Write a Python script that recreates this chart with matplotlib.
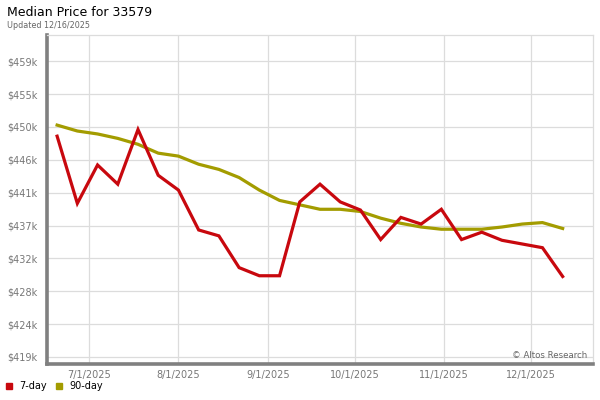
import datetime
import numpy as np
import matplotlib
matplotlib.use('Agg')
from matplotlib import pyplot as plt
from matplotlib.patches import Patch
import matplotlib.dates as mdates

# weekly points, Fridays from 6/20/2025 to 12/12/2025
start = datetime.date(2025, 6, 20)
dates = [start + datetime.timedelta(days=7 * i) for i in range(26)]

# median price in $k
price_7day = [449.0, 439.9, 445.1, 442.5, 449.9, 443.7, 441.7, 436.3, 435.5, 431.2,
              430.1, 430.1, 440.1, 442.5, 440.1, 439.0, 435.0, 438.0, 437.1, 439.1,
              435.0, 436.0, 434.9, 434.4, 433.9, 430.0]
price_90day = [450.5, 449.7, 449.3, 448.7, 447.9, 446.7, 446.3, 445.2, 444.5, 443.4,
               441.7, 440.3, 439.7, 439.1, 439.1, 438.8, 437.9, 437.2, 436.7, 436.4,
               436.4, 436.4, 436.7, 437.1, 437.3, 436.5]

y_ticks = [419.1 + 4.45 * i for i in range(10)]
y_labels = ['$419k', '$424k', '$428k', '$432k', '$437k', '$441k', '$446k', '$450k', '$455k', '$459k']
x_ticks = [datetime.date(2025, m, 1) for m in range(7, 13)]
x_labels = ['7/1/2025', '8/1/2025', '9/1/2025', '10/1/2025', '11/1/2025', '12/1/2025']

red = '#c8080e'
olive = '#a39c00'
grid_color = '#dcdcdc'
label_color = '#777777'

fig = plt.figure(figsize=(6, 4), dpi=100)
ax = fig.add_axes([47 / 600, 36 / 400, 546 / 600, 329 / 400])

ax.plot(dates, price_7day, color=red, lw=2.3, zorder=3, solid_joinstyle='miter')
ax.plot(dates, price_90day, color=olive, lw=2.3, zorder=2)

july1 = datetime.date(2025, 7, 1)
ax.set_xlim(mdates.date2num(july1) - 14.5, mdates.date2num(july1) + 174.5)
ax.set_ylim(418.15, 462.7)

ax.set_yticks(y_ticks)
ax.set_yticklabels(y_labels)
ax.set_xticks(x_ticks)
ax.set_xticklabels(x_labels)
ax.tick_params(axis='both', length=0, labelsize=7, labelcolor=label_color)
ax.tick_params(axis='y', pad=7)
ax.tick_params(axis='x', pad=4)

ax.grid(True, color=grid_color, lw=0.9)
ax.set_axisbelow(True)

for side in ['top', 'right']:
    ax.spines[side].set_color(grid_color)
    ax.spines[side].set_linewidth(0.9)
for side in ['left', 'bottom']:
    ax.spines[side].set_color('#808080')
    ax.spines[side].set_linewidth(2.6)

ax.text(0.99, 0.012, '\u00a9 Altos Research', transform=ax.transAxes, ha='right', va='bottom',
        fontsize=6.2, color='#666666')

fig.text(7 / 600, 1 - 13 / 400, 'Median Price for 33579', fontsize=9, va='center', ha='left')
fig.text(7 / 600, 1 - 25 / 400, 'Updated 12/16/2025', fontsize=5.8, va='center', ha='left', color='#666666')

handles = [Patch(color=red, label='7-day'), Patch(color=olive, label='90-day')]
fig.legend(handles=handles, loc='lower left', bbox_to_anchor=(-0.004, 0.0), ncol=2, frameon=False,
           fontsize=7, handlelength=0.6, handleheight=0.6, handletextpad=0.7, columnspacing=1.0)

fig.savefig('out.png', dpi=100)
